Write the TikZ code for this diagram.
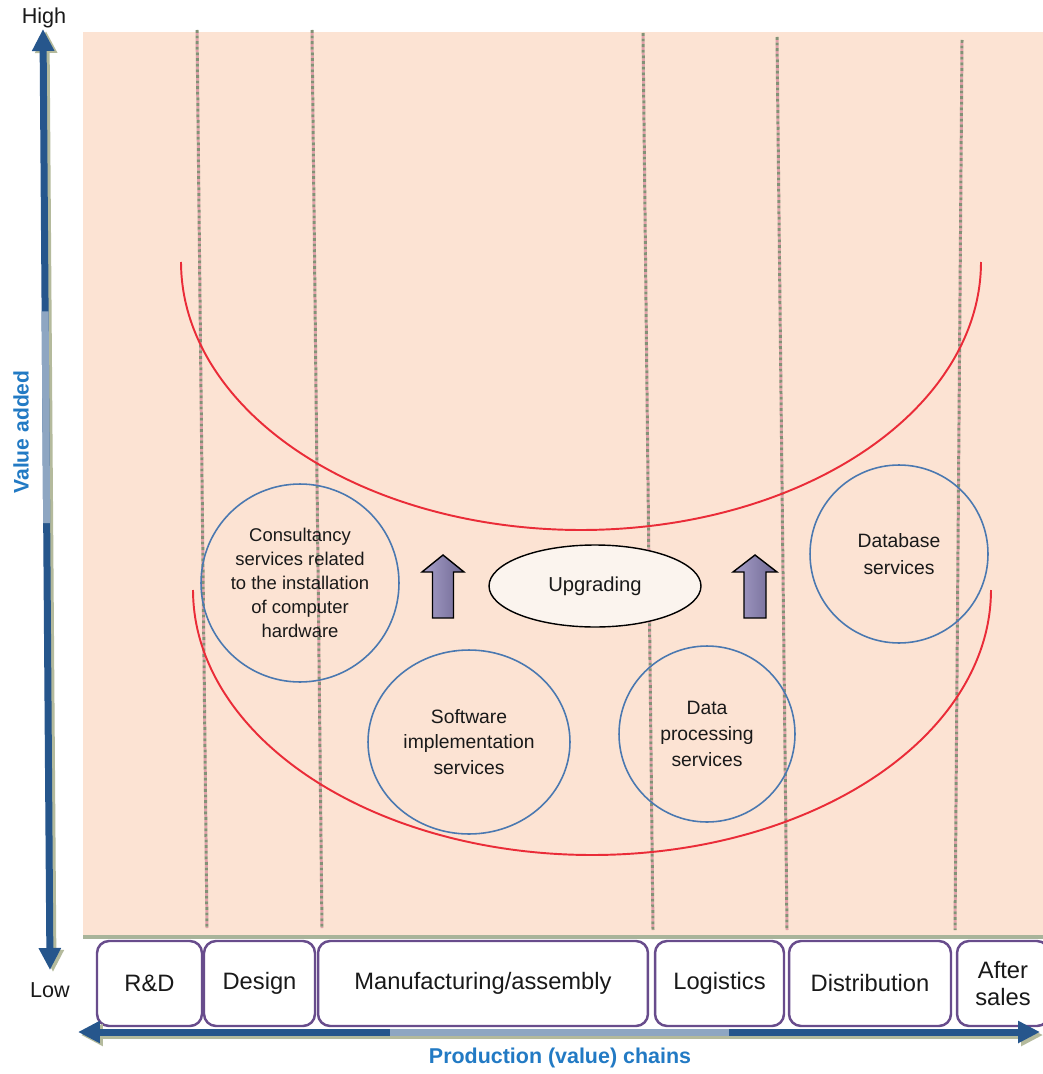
\documentclass[tikz,border=0pt]{standalone}
\usepackage{fontspec}
\setmainfont{Liberation Sans}
\usetikzlibrary{shapes.geometric,arrows.meta,calc}
\definecolor{peachc}{RGB}{252,227,211}
\definecolor{groundc}{RGB}{168,180,154}
\definecolor{dotg}{RGB}{130,146,118}
\definecolor{dotp}{RGB}{226,160,170}
\definecolor{redc}{RGB}{234,44,56}
\definecolor{bluec}{RGB}{74,120,176}
\definecolor{axisc}{RGB}{38,86,140}
\definecolor{axislight}{RGB}{142,166,194}
\definecolor{shadowc}{RGB}{180,186,156}
\definecolor{boxc}{RGB}{104,76,140}
\definecolor{labelc}{RGB}{34,122,196}
\definecolor{arrowl}{RGB}{168,160,202}
\definecolor{arrowr}{RGB}{110,103,146}
\definecolor{upgc}{RGB}{251,244,238}
\definecolor{txtc}{RGB}{25,25,25}
\begin{document}
\begin{tikzpicture}[x=0.02cm,y=-0.02cm,
  vline/.style={line width=1.7pt, dotg, dash pattern=on 1.6pt off 1.6pt},
  vlinep/.style={line width=1.7pt, dotp, dash pattern=on 1.6pt off 1.6pt, dash phase=1.6pt},
  redarc/.style={draw=redc, line width=1.1pt},
  svc/.style={draw=bluec, line width=0.9pt, inner sep=0pt, align=center, text=txtc},
  svccircle/.style={svc, circle},
  svcellipse/.style={svc, ellipse},
  blockarrow/.style={draw=black, line width=0.8pt, left color=arrowl, right color=arrowr},
  axisline/.style={line width=0.14cm, axisc, {Triangle[width=0.42cm,length=0.44cm]}-{Triangle[width=0.42cm,length=0.44cm]}},
  axisshadow/.style={line width=0.14cm, shadowc, {Triangle[width=0.42cm,length=0.44cm]}-{Triangle[width=0.42cm,length=0.44cm]}},
  axislightseg/.style={line width=0.14cm, axislight, line cap=butt},
  chainbox/.style={draw=boxc, line width=1.4pt, fill=white, rounded corners=0.24cm,
     minimum height=1.7cm, inner sep=0pt, align=center, text=txtc,
     font=\fontsize{13.5}{15.5}\selectfont},
  axislabel/.style={text=txtc, font=\fontsize{12.3}{14}\selectfont, inner sep=0pt}
]
\useasboundingbox (0,0) rectangle (1043,1074);
\fill[white] (0,0) rectangle (1043,1074);
% peach field
\fill[peachc] (83,32) rectangle (1043,936);
\draw[groundc, line width=1.8pt] (83,937) -- (1043,937);
% dotted stage separators
\foreach \xa/\ya/\xb/\yb in {197/30/207/928, 312/30/322/928, 643/33/653/930, 777/37/787/930, 962/40/955/930}{
  \draw[vlinep] (\xa,\ya) -- (\xb,\yb);
  \draw[vline] (\xa,\ya) -- (\xb,\yb);
}
% red smile curves
\draw[redarc] plot[domain=180:360, samples=140, smooth] ({581+400*cos(\x)},{262-268*sin(\x)});
\draw[redarc] plot[domain=180:360, samples=140, smooth] ({592+399*cos(\x)},{590-265*sin(\x)});
% service circles
\node[svccircle, minimum size=3.96cm, font=\fontsize{10.5}{13.6}\selectfont] (consult) at (300,583)
  {Consultancy\\services related\\to the installation\\of computer\\hardware};
\node[svcellipse, minimum width=4.04cm, minimum height=3.68cm, font=\fontsize{11}{14.7}\selectfont] (software) at (469,742)
  {Software\\implementation\\services};
\node[svccircle, minimum size=3.52cm, font=\fontsize{11}{15}\selectfont] (dataproc) at (707,734)
  {Data\\processing\\services};
\node[svccircle, minimum size=3.56cm, font=\fontsize{11}{15.2}\selectfont] (database) at (899,554)
  {Database\\services};
% upgrading
\node[ellipse, draw=black, line width=0.8pt, fill=upgc, minimum width=4.24cm, minimum height=1.64cm,
  inner sep=0pt, text=txtc, font=\fontsize{11.5}{14}\selectfont] (upgrade) at (595,586) {Upgrading};
% block arrows
\draw[blockarrow, shift={(443,555)}] (0,0) -- (21,17) -- (10.5,17) -- (10.5,63) -- (-10.5,63) -- (-10.5,17) -- (-21,17) -- cycle;
\draw[blockarrow, shift={(755,555)}] (0,0) -- (22,17) -- (11,17) -- (11,63) -- (-11,63) -- (-11,17) -- (-22,17) -- cycle;
% value chain boxes
\node[chainbox, minimum width=2.10cm] (rd) at (149.5,983.5) {R\&D};
\node[chainbox, minimum width=2.22cm] (design) at (259.5,983.5) {Design};
\node[chainbox, minimum width=6.60cm] (manuf) at (483,983.5) {Manufacturing/assembly};
\node[chainbox, minimum width=2.58cm] (logist) at (719.5,983.5) {Logistics};
\node[chainbox, minimum width=3.24cm] (distrib) at (870,983.5) {Distribution};
\node[chainbox, minimum width=1.84cm] (after) at (1003,983.5) {After\\sales};
% vertical axis
\coordinate (vtop) at (43,29);
\coordinate (vbot) at (50,970);
\draw[axisshadow] ([shift={(3,2)}]vtop) -- ([shift={(3,2)}]vbot);
\draw[axisline] (vtop) -- (vbot);
\draw[axislightseg] ($(vtop)!0.30!(vbot)$) -- ($(vtop)!0.525!(vbot)$);
% horizontal axis
\coordinate (hleft) at (78,1032);
\coordinate (hright) at (1040,1032);
\draw[axisshadow] ([shift={(3,3)}]hleft) -- ([shift={(3,3)}]hright);
\draw[axisline] (hleft) -- (hright);
\draw[axislightseg] ($(hleft)!0.324!(hright)$) -- ($(hleft)!0.677!(hright)$);
% axis labels
\node[axislabel] (high) at (44,18) {High};
\node[axislabel] (low) at (50,990) {Low};
\node[rotate=90, text=labelc, inner sep=0pt, font=\bfseries\fontsize{12}{14}\selectfont] (valueadded) at (21,432) {Value added};
\node[text=labelc, inner sep=0pt, font=\bfseries\fontsize{12.2}{14}\selectfont] (chains) at (560,1058) {Production (value) chains};
\end{tikzpicture}
\end{document}
